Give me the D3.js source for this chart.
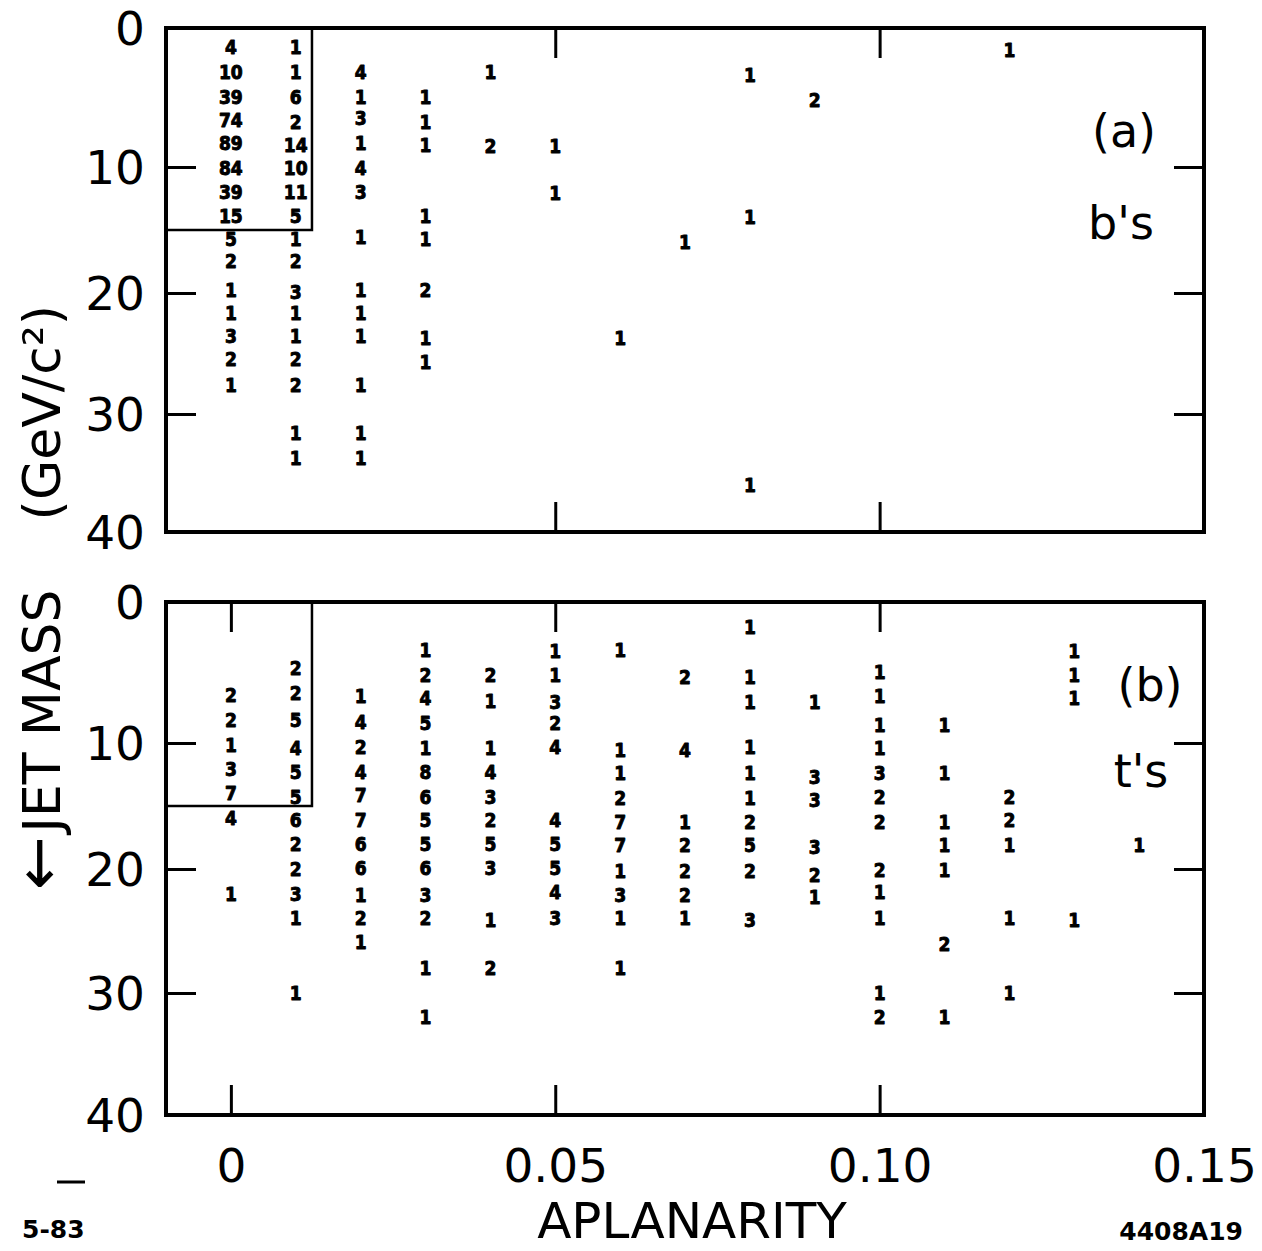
<!DOCTYPE html>
<html>
<head>
<meta charset="utf-8">
<script src="https://cdn.jsdelivr.net/npm/d3@7"></script>
<style>
  html, body { margin: 0; padding: 0; background: #fff; }
  svg { display: block; }
</style>
</head>
<body>
<script>
// ---------------- data ----------------
const massTicks = [0, 10, 20, 30, 40];
const innerMassTicks = [10, 20, 30];
const aplanarityTicks = [0, 0.05, 0.10, 0.15];
const aplanarityTickLabels = ["0", "0.05", "0.10", "0.15"];
const panelATicksX = [0.05, 0.10];
const panelBTicksX = [0, 0.05, 0.10];
const cutAplanarity = 0.0125;
const cutMass = 15;

// (a) b's : [aplanarity, jet mass (GeV/c^2), number of events]
const bEvents = [
  [0,1.4,4],[0,3.2,10],[0,5.0,39],[0,6.6,74],[0,8.3,89],[0,10.1,84],[0,12.0,39],[0,13.9,15],
  [0,15.75,5],[0,17.5,2],[0,19.8,1],[0,21.7,1],[0,23.6,3],[0,25.5,2],[0,27.6,1],
  [0.01,1.4,1],[0.01,3.2,1],[0.01,5.0,6],[0.01,6.8,2],[0.01,8.4,14],[0.01,10.1,10],[0.01,12.0,11],
  [0.01,13.9,5],[0.01,15.75,1],[0.01,17.5,2],[0.01,19.9,3],[0.01,21.7,1],[0.01,23.6,1],[0.01,25.5,2],
  [0.01,27.6,2],[0.01,31.6,1],[0.01,33.7,1],
  [0.02,3.2,4],[0.02,5.0,1],[0.02,6.5,3],[0.02,8.3,1],[0.02,10.1,4],[0.02,12.0,3],[0.02,15.6,1],
  [0.02,19.8,1],[0.02,21.7,1],[0.02,23.6,1],[0.02,27.6,1],[0.02,31.6,1],[0.02,33.7,1],
  [0.03,5.0,1],[0.03,6.8,1],[0.03,8.4,1],[0.03,13.9,1],[0.03,15.75,1],[0.03,19.8,2],[0.03,23.7,1],[0.03,25.7,1],
  [0.04,3.2,1],[0.04,8.5,2],
  [0.05,8.5,1],[0.05,12.1,1],
  [0.06,23.7,1],
  [0.07,16.0,1],
  [0.08,3.4,1],[0.08,14.0,1],[0.08,36.0,1],
  [0.09,5.2,2],
  [0.12,1.6,1]
];

// (b) t's : [aplanarity, jet mass (GeV/c^2), number of events]
const tEvents = [
  [0,6.6,2],[0,8.4,2],[0,10.2,1],[0,12.1,3],[0,14.0,7],[0,16.0,4],[0,22.0,1],
  [0.01,4.7,2],[0.01,6.5,2],[0.01,8.4,5],[0.01,10.4,4],[0.01,12.3,5],[0.01,14.3,5],[0.01,16.1,6],
  [0.01,18.0,2],[0.01,20.0,2],[0.01,22.0,3],[0.01,24.0,1],[0.01,30.0,1],
  [0.02,6.7,1],[0.02,8.5,4],[0.02,10.3,2],[0.02,12.3,4],[0.02,14.1,7],[0.02,16.1,7],[0.02,18.0,6],
  [0.02,19.9,6],[0.02,22.1,1],[0.02,24.0,2],[0.02,25.9,1],
  [0.03,3.4,1],[0.03,5.2,2],[0.03,6.8,4],[0.03,8.6,5],[0.03,10.4,1],[0.03,12.3,8],[0.03,14.3,6],
  [0.03,16.1,5],[0.03,18.0,5],[0.03,19.9,6],[0.03,22.1,3],[0.03,24.0,2],[0.03,28.0,1],[0.03,32.0,1],
  [0.04,5.2,2],[0.04,7.0,1],[0.04,10.4,1],[0.04,12.3,4],[0.04,14.3,3],[0.04,16.1,2],[0.04,18.0,5],
  [0.04,19.9,3],[0.04,24.1,1],[0.04,28.0,2],
  [0.05,3.5,1],[0.05,5.2,1],[0.05,7.1,3],[0.05,8.6,2],[0.05,10.3,4],[0.05,16.1,4],[0.05,18.0,5],
  [0.05,19.9,5],[0.05,21.9,4],[0.05,24.0,3],
  [0.06,3.4,1],[0.06,10.6,1],[0.06,12.4,1],[0.06,14.4,2],[0.06,16.3,7],[0.06,18.1,7],[0.06,20.2,1],
  [0.06,22.1,3],[0.06,24.0,1],[0.06,28.0,1],
  [0.07,5.3,2],[0.07,10.6,4],[0.07,16.3,1],[0.07,18.1,2],[0.07,20.2,2],[0.07,22.1,2],[0.07,24.0,1],
  [0.08,1.8,1],[0.08,5.3,1],[0.08,7.1,1],[0.08,10.3,1],[0.08,12.4,1],[0.08,14.4,1],[0.08,16.3,2],
  [0.08,18.1,5],[0.08,20.2,2],[0.08,24.1,3],
  [0.09,7.1,1],[0.09,12.7,3],[0.09,14.5,3],[0.09,18.3,3],[0.09,20.5,2],[0.09,22.3,1],
  [0.10,5.0,1],[0.10,6.7,1],[0.10,8.7,1],[0.10,10.4,1],[0.10,12.4,3],[0.10,14.3,2],[0.10,16.3,2],
  [0.10,20.1,2],[0.10,21.9,1],[0.10,24.0,1],[0.10,30.0,1],[0.10,32.0,2],
  [0.11,8.7,1],[0.11,12.4,1],[0.11,16.3,1],[0.11,18.1,1],[0.11,20.1,1],[0.11,26.1,2],[0.11,32.0,1],
  [0.12,14.3,2],[0.12,16.1,2],[0.12,18.1,1],[0.12,24.0,1],[0.12,30.0,1],
  [0.13,3.5,1],[0.13,5.2,1],[0.13,6.8,1],[0.13,24.1,1],
  [0.14,18.1,1]
];

// ---------------- layout ----------------
const W = 1262, H = 1251;
const bigFont = "'DejaVu Sans', 'Liberation Sans', sans-serif";
const numFont = "'DejaVu Sans Condensed', 'DejaVu Sans', sans-serif";

const svg = d3.select("body").append("svg")
  .attr("width", W).attr("height", H)
  .attr("viewBox", `0 0 ${W} ${H}`);
svg.append("rect").attr("width", W).attr("height", H).attr("fill", "#fff");

const x = d3.scaleLinear().domain([-0.01, 0.15]).range([166, 1204]);

const panels = [
  { data: bEvents, yRange: [28, 167, 293, 414, 532], xTicks: panelATicksX,
    label: "(a)", labelPos: [1124, 130], sub: "b's", subPos: [1121, 222] },
  { data: tEvents, yRange: [602, 743, 869, 993, 1115], xTicks: panelBTicksX,
    label: "(b)", labelPos: [1150, 684], sub: "t's", subPos: [1141, 770] }
];

panels.forEach((p, pi) => {
  const y = d3.scaleLinear().domain(massTicks).range(p.yRange);
  const g = svg.append("g");
  const x0 = x(-0.01), x1 = x(0.15), y0 = y(0), y1 = y(40);

  // frame
  g.append("rect")
    .attr("x", x0).attr("y", y0)
    .attr("width", x1 - x0).attr("height", y1 - y0)
    .attr("fill", "none").attr("stroke", "#000").attr("stroke-width", 4);

  const styleTicks = sel => {
    sel.select(".domain").remove();
    sel.selectAll(".tick line").attr("stroke", "#000").attr("stroke-width", 3);
    sel.selectAll(".tick text").remove();
  };

  // inner ticks
  g.append("g").attr("transform", `translate(${x0},0)`)
    .call(d3.axisLeft(y).tickValues(innerMassTicks).tickSize(-30).tickFormat(""))
    .call(styleTicks);
  g.append("g").attr("transform", `translate(${x1},0)`)
    .call(d3.axisRight(y).tickValues(innerMassTicks).tickSize(-30).tickFormat(""))
    .call(styleTicks);
  g.append("g").attr("transform", `translate(0,${y0})`)
    .call(d3.axisTop(x).tickValues(p.xTicks).tickSize(-30).tickFormat(""))
    .call(styleTicks);
  g.append("g").attr("transform", `translate(0,${y1})`)
    .call(d3.axisBottom(x).tickValues(p.xTicks).tickSize(-30).tickFormat(""))
    .call(styleTicks);

  // y tick labels
  const yl = g.append("g").attr("transform", `translate(${x0},0)`)
    .call(d3.axisLeft(y).tickValues(massTicks).tickSize(0).tickPadding(21).tickFormat(d3.format("d")));
  yl.select(".domain").remove();
  yl.selectAll(".tick line").remove();
  yl.selectAll(".tick text")
    .attr("font-family", bigFont).attr("font-size", 47).attr("fill", "#000")
    .attr("dy", "0.36em");

  // cut box
  g.append("path")
    .attr("d", d3.line()([[x(-0.01), y(cutMass)], [x(cutAplanarity), y(cutMass)], [x(cutAplanarity), y(0)]]))
    .attr("fill", "none").attr("stroke", "#000").attr("stroke-width", 2.5);

  // event counts
  g.append("g").selectAll("text").data(p.data).join("text")
    .attr("x", d => x(d[0]))
    .attr("y", d => y(d[1]))
    .attr("dy", "0.36em")
    .attr("text-anchor", "middle")
    .attr("font-family", numFont)
    .attr("font-weight", "bold")
    .attr("font-size", 19)
    .attr("fill", "#000")
    .attr("stroke", "#000")
    .attr("stroke-width", 0.9)
    .attr("stroke-linejoin", "round")
    .text(d => d[2]);

  // panel labels
  g.append("text").attr("x", p.labelPos[0]).attr("y", p.labelPos[1]).attr("dy", "0.36em")
    .attr("text-anchor", "middle").attr("font-family", bigFont).attr("font-size", 46)
    .text(p.label);
  g.append("text").attr("x", p.subPos[0]).attr("y", p.subPos[1]).attr("dy", "0.36em")
    .attr("text-anchor", "middle").attr("font-family", bigFont).attr("font-size", 46)
    .text(p.sub);

  // x tick labels under the lower panel
  if (pi === 1) {
    const xl = g.append("g").attr("transform", `translate(0,${y1})`)
      .call(d3.axisBottom(x).tickValues(aplanarityTicks).tickSize(0).tickPadding(34)
        .tickFormat((d, i) => aplanarityTickLabels[i]));
    xl.select(".domain").remove();
    xl.selectAll(".tick line").remove();
    xl.selectAll(".tick text")
      .attr("font-family", bigFont).attr("font-size", 47).attr("fill", "#000");
  }
});

// axis titles
svg.append("text")
  .attr("x", 692).attr("y", 1238)
  .attr("text-anchor", "middle")
  .attr("font-family", bigFont).attr("font-size", 50)
  .text("APLANARITY");

const yt = svg.append("text")
  .attr("transform", "translate(60,890) rotate(-90)")
  .attr("text-anchor", "start")
  .attr("font-family", bigFont).attr("font-size", 52);
yt.append("tspan").attr("font-size", 64).text("←");
yt.append("tspan").attr("dx", 4).text("JET MASS");

svg.append("text")
  .attr("transform", "translate(60,305) rotate(-90)")
  .attr("text-anchor", "end")
  .attr("font-family", bigFont).attr("font-size", 52)
  .text("(GeV/c²)");

// corner annotations
svg.append("line").attr("x1", 57).attr("x2", 85).attr("y1", 1182).attr("y2", 1182)
  .attr("stroke", "#000").attr("stroke-width", 3);
svg.append("text").attr("x", 22).attr("y", 1238)
  .attr("font-family", bigFont).attr("font-weight", "bold").attr("font-size", 25)
  .text("5-83");
svg.append("text").attr("x", 1243).attr("y", 1240)
  .attr("text-anchor", "end")
  .attr("font-family", bigFont).attr("font-weight", "bold").attr("font-size", 25)
  .text("4408A19");
</script>
</body>
</html>
